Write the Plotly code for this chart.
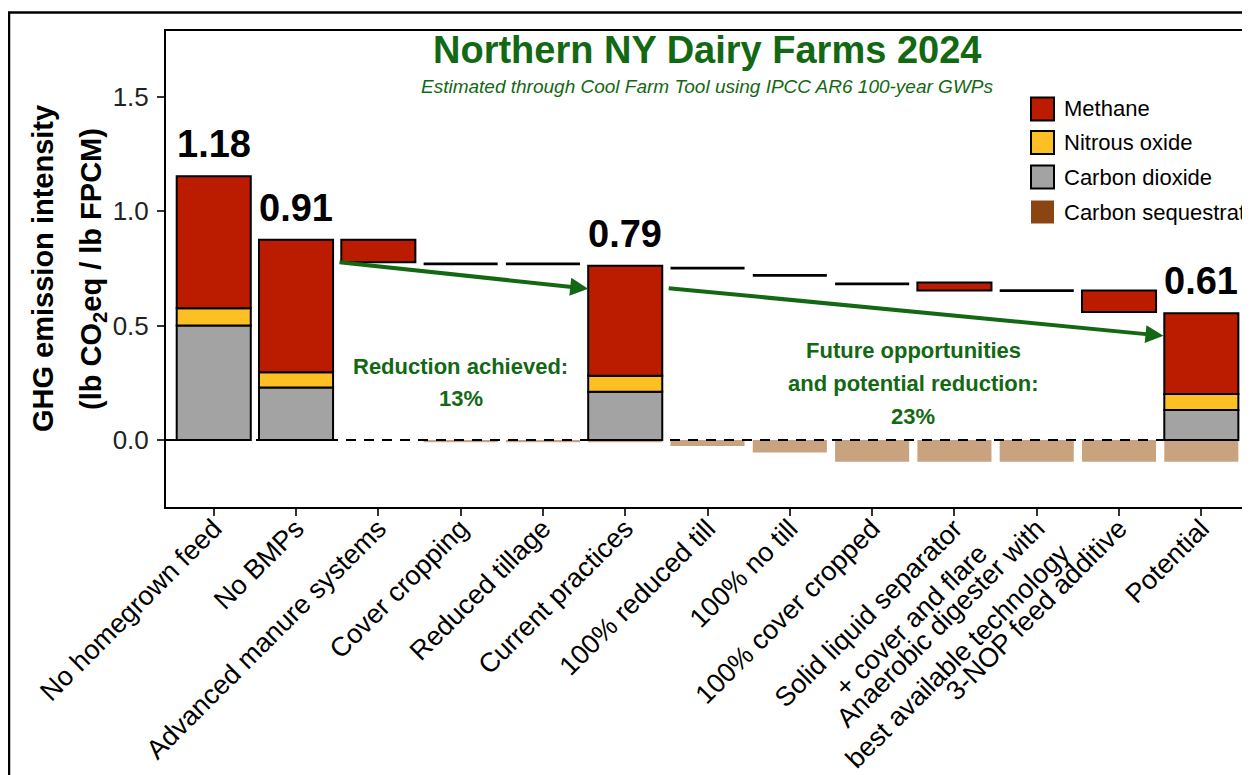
import numpy as np
import plotly.graph_objects as go

# ---------------- data ----------------
categories = [
    "No homegrown feed", "No BMPs", "Advanced manure systems", "Cover cropping",
    "Reduced tillage", "Current practices", "100% reduced till", "100% no till",
    "100% cover cropped", "Solid liquid separator<br>+ cover and flare",
    "Anaerobic digester with<br>best available technology", "3-NOP feed additive",
    "Potential",
]

# full stacked bars (gross emissions by gas)
total_idx = [0, 1, 5, 12]
co2 = [0.500, 0.229, 0.211, 0.131]
n2o = [0.076, 0.067, 0.070, 0.070]
ch4 = [0.576, 0.579, 0.480, 0.353]
total_labels = ["1.18", "0.91", "0.79", "0.61"]

# methane reduction steps (floating bars)
step_idx = [2, 9, 11]
step_top = [0.875, 0.688, 0.653]
step_bottom = [0.777, 0.653, 0.559]

# steps with no gross-emission change (drawn as a level line)
level_idx = [3, 4, 6, 7, 8, 10]
level_val = [0.769, 0.769, 0.751, 0.719, 0.682, 0.653]

# carbon sequestration (negative)
seq_idx = [3, 4, 5, 6, 7, 8, 9, 10, 11, 12]
seq_val = [-0.010, -0.010, -0.010, -0.026, -0.055, -0.095, -0.095, -0.095, -0.095, -0.095]

# arrows (tail -> head) in category-index / data units
arrow_tail = [(1.51, 0.777), (5.51, 0.664)]
arrow_head = [(4.55, 0.661), (11.54, 0.455)]

legend_names = ["Methane", "Nitrous oxide", "Carbon dioxide", "Carbon sequestration"]

# ---------------- style ----------------
C_CH4 = "#BB1C00"
C_N2O = "#FCC024"
C_CO2 = "#A3A3A3"
C_SEQ = "#C9A37F"
C_SEQ_KEY = "#8B4513"
GREEN = "#136813"
FONT = "Liberation Sans, Arial, Helvetica, sans-serif"
OFF = 8                      # page body margin
W, H = 1250 - OFF, 775 - OFF
ML, MR, MT, MB = 166 - OFF, 3, 31 - OFF, 775 - 507
PW, PH = W - ML - MR, H - MT - MB
LVL_T = 0.012

def pxx(p):  # page pixel -> paper x
    return (p - OFF - ML) / PW

def pxy(p):  # page pixel -> paper y
    return (H - MB - (p - OFF)) / PH

cat = lambda idx: [categories[i] for i in idx]
co2a, n2oa, ch4a = np.array(co2), np.array(n2o), np.array(ch4)
totals = co2a + n2oa + ch4a

fig = go.Figure()
outline = dict(color="black", width=2)

fig.add_trace(go.Bar(x=cat(seq_idx), y=seq_val, base=[0] * len(seq_val), width=0.9,
                     marker=dict(color=C_SEQ, line=dict(width=0)), showlegend=False))
fig.add_trace(go.Bar(x=cat(total_idx), y=co2a, base=np.zeros(len(co2a)), width=0.9,
                     marker=dict(color=C_CO2, line=outline), showlegend=False))
fig.add_trace(go.Bar(x=cat(total_idx), y=n2oa, base=co2a, width=0.9,
                     marker=dict(color=C_N2O, line=outline), showlegend=False))
fig.add_trace(go.Bar(x=cat(total_idx), y=ch4a, base=co2a + n2oa, width=0.9,
                     marker=dict(color=C_CH4, line=outline), showlegend=False))
fig.add_trace(go.Bar(x=cat(step_idx), y=np.array(step_top) - np.array(step_bottom),
                     base=step_bottom, width=0.9,
                     marker=dict(color=C_CH4, line=outline), showlegend=False))
fig.add_trace(go.Bar(x=cat(level_idx), y=[LVL_T] * len(level_val),
                     base=np.array(level_val) - LVL_T / 2, width=0.9,
                     marker=dict(color="black", line=dict(width=0)), showlegend=False))

# zero dashed line
fig.add_shape(type="line", xref="paper", yref="y", x0=0, x1=1, y0=0, y1=0,
              line=dict(color="black", width=2, dash="10px,8px"), layer="above")

# outer frame
fig.add_shape(type="rect", xref="paper", yref="paper", x0=pxx(9), x1=pxx(1320),
              y0=pxy(900), y1=pxy(12.5), line=dict(color="black", width=2.5),
              fillcolor="rgba(0,0,0,0)", layer="above")

ann = []
# value labels
for i, t, lab in zip(total_idx, totals, total_labels):
    ann.append(dict(x=categories[i], y=t, text=lab, showarrow=False, yanchor="bottom",
                    xanchor="center", yshift=9,
                    font=dict(family=FONT, size=38, color="black", weight="bold")))

# arrows
for (tx, ty), (hx, hy) in zip(arrow_tail, arrow_head):
    ann.append(dict(x=hx, y=hy, ax=tx, ay=ty, xref="x", yref="y", axref="x", ayref="y",
                    text="", showarrow=True, arrowhead=2, arrowsize=0.9, arrowwidth=4,
                    arrowcolor=GREEN, standoff=0))

# green texts
green_lines = [
    ("Reduction achieved:", 3.0, pxy(366)),
    ("13%", 3.0, pxy(398)),
    ("Future opportunities", 8.5, pxy(350)),
    ("and potential reduction:", 8.5, pxy(383)),
    ("23%", 8.5, pxy(416)),
]
for txt, xx, yy in green_lines:
    ann.append(dict(x=xx, y=yy, xref="x", yref="paper", text=txt, showarrow=False,
                    xanchor="center", yanchor="middle",
                    font=dict(family=FONT, size=22, color=GREEN, weight="bold")))

# title & subtitle
ann.append(dict(x=0.5, y=pxy(50), xref="paper", yref="paper", showarrow=False,
                text="Northern NY Dairy Farms 2024", xanchor="center", yanchor="middle",
                font=dict(family=FONT, size=38, color=GREEN, weight="bold")))
ann.append(dict(x=0.5, y=pxy(86), xref="paper", yref="paper", showarrow=False,
                text="Estimated through Cool Farm Tool using IPCC AR6 100-year GWPs",
                xanchor="center", yanchor="middle",
                font=dict(family=FONT, size=19, color=GREEN, style="italic")))

# y axis title (two lines)
ann.append(dict(x=pxx(43), y=0.5, xref="paper", yref="paper", showarrow=False,
                text="GHG emission intensity", textangle=-90, xanchor="center",
                yanchor="middle", font=dict(family=FONT, size=29, color="black", weight="bold")))
ann.append(dict(x=pxx(93), y=0.5, xref="paper", yref="paper", showarrow=False,
                text="(lb CO<sub>2</sub>eq / lb FPCM)", textangle=-90, xanchor="center",
                yanchor="middle", font=dict(family=FONT, size=29, color="black", weight="bold")))

# manual legend
key_colors = [C_CH4, C_N2O, C_CO2, C_SEQ_KEY]
key_borders = [2, 2, 2, 0]
key_y = [109, 142.5, 177, 212]
for name, col, bw, yc in zip(legend_names, key_colors, key_borders, key_y):
    fig.add_shape(type="rect", xref="paper", yref="paper", x0=pxx(1031), x1=pxx(1054),
                  y0=pxy(yc + 11.5), y1=pxy(yc - 11.5), fillcolor=col,
                  line=dict(color="black", width=bw), layer="above")
    ann.append(dict(x=pxx(1062), y=pxy(yc), xref="paper", yref="paper", showarrow=False,
                    text=name, xanchor="left", yanchor="middle",
                    font=dict(family=FONT, size=22, color="black")))

fig.update_layout(
    width=W, height=H, margin=dict(l=ML, r=MR, t=MT, b=MB, pad=0, autoexpand=False),
    barmode="overlay", bargap=0.1,
    plot_bgcolor="white", paper_bgcolor="white",
    showlegend=False, annotations=ann,
    font=dict(family=FONT, color="black"),
)
fig.update_xaxes(
    type="category", categoryorder="array", categoryarray=categories,
    range=[-0.58, 12.555], tickangle=-45, automargin=False,
    showline=True, linecolor="black", linewidth=2, mirror=True,
    ticks="outside", ticklen=7, tickwidth=2, tickcolor="#333",
    showgrid=False, tickfont=dict(family=FONT, size=27, color="black"),
    ticklabelstandoff=-14,
)
fig.update_yaxes(
    range=[-0.293, 1.787], tickvals=[0, 0.5, 1.0, 1.5], tickformat=".1f",
    automargin=False,
    showline=True, linecolor="black", linewidth=2, mirror=True,
    ticks="outside", ticklen=7, tickwidth=2, tickcolor="#333",
    showgrid=False, zeroline=False, ticklabelstandoff=3,
    tickfont=dict(family=FONT, size=26, color="#222"),
)

fig.write_html("out.html")
